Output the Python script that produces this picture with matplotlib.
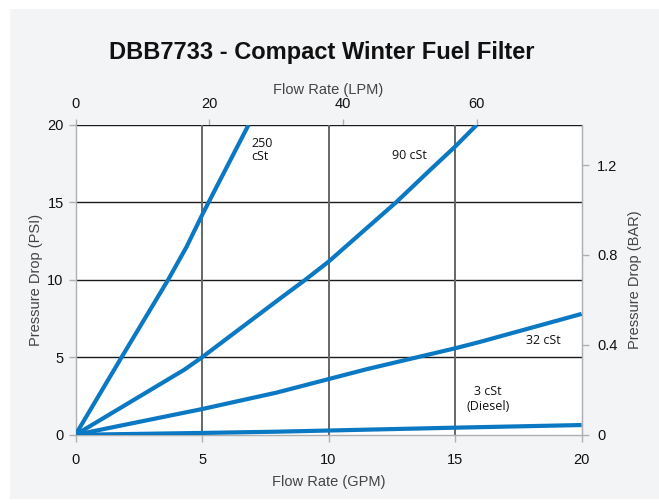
import matplotlib
matplotlib.use("Agg")
import matplotlib.pyplot as plt
from matplotlib.patches import Rectangle

# Data (GPM vs PSI)
gpm_250 = [0, 1.82, 3.66, 4.38, 5.0, 5.26, 6.84]
psi_250 = [0, 5.0, 10.0, 12.1, 14.17, 15.0, 20.0]
gpm_90 = [0, 4.3, 5.0, 6.78, 8.09, 9.08, 10.0, 12.67, 14.01, 15.0, 15.86]
psi_90 = [0, 4.2, 5.0, 7.19, 8.8, 10.0, 11.17, 15.0, 17.08, 18.59, 20.0]
gpm_32 = [0, 5.0, 7.94, 11.5, 15.0, 16.0, 20.0]
psi_32 = [0, 1.66, 2.72, 4.23, 5.58, 6.0, 7.8]
gpm_3 = [0, 5.0, 7.94, 15.0, 20.0]
psi_3 = [0, 0.12, 0.2, 0.46, 0.63]

x_ticks = [0, 5, 10, 15, 20]
y_ticks = [0, 5, 10, 15, 20]
lpm_ticks = [0, 20, 40, 60]
bar_ticks = [0, 0.4, 0.8, 1.2]
bar_labels = ["0", "0.4", "0.8", "1.2"]

GPM2LPM = 3.78541
PSI2BAR = 0.0689476

W, H = 659, 503
fig = plt.figure(figsize=(W / 100, H / 100), dpi=100)
fig.patch.set_facecolor("white")
bg = Rectangle((10 / W, 1 - 499 / H), (W - 10) / W, 490 / H,
               transform=fig.transFigure, facecolor="#f3f4f6",
               edgecolor="none", zorder=-10)
fig.add_artist(bg)

L, R, T, B = 75.5, 581.6, 124.8, 434.8
ax = fig.add_axes([L / W, 1 - B / H, (R - L) / W, (B - T) / H])
ax.set_zorder(1)
ax.set_facecolor("white")
ax.set_xlim(0, 20)
ax.set_ylim(0, 20)

for y in y_ticks[1:]:
    ax.axhline(y, color="#1a1a1a", lw=1.0, zorder=1)
for x in x_ticks[1:-1]:
    ax.axvline(x, color="#666666", lw=1.4, zorder=1)

blue = "#0a78c2"
for gx, py in [(gpm_250, psi_250), (gpm_90, psi_90), (gpm_32, psi_32), (gpm_3, psi_3)]:
    ax.plot(gx, py, color=blue, lw=3.0, solid_capstyle="butt", solid_joinstyle="round",
            zorder=3, clip_on=True)

for s in ["left", "bottom", "right"]:
    ax.spines[s].set_color("#b0b0b0")
    ax.spines[s].set_linewidth(1.0)
ax.spines["top"].set_visible(False)

fam = "Liberation Sans"
tfont = dict(family=fam, size=10.5)
ax.set_xticks(x_ticks)
ax.set_yticks(y_ticks)
ax.set_xticklabels([str(v) for v in x_ticks], fontdict=tfont)
ax.set_yticklabels([str(v) for v in y_ticks], fontdict=tfont)
ax.tick_params(axis="both", colors="#b0b0b0", labelcolor="#111111", length=5, width=1)
ax.tick_params(axis="x", pad=8)
ax.set_xlabel("Flow Rate (GPM)", family=fam, size=10.5, color="#444444", labelpad=6)
ax.set_ylabel("Pressure Drop (PSI)", family=fam, size=10.5, color="#444444", labelpad=3)

top = ax.secondary_xaxis("top", functions=(lambda g: g * GPM2LPM, lambda l: l / GPM2LPM))
top.set_xticks(lpm_ticks)
top.set_xticklabels([str(v) for v in lpm_ticks], fontdict=tfont)
top.tick_params(colors="#b0b0b0", labelcolor="#111111", length=4, width=1, pad=6)
top.spines["top"].set_visible(False)
top.set_xlabel("Flow Rate (LPM)", family=fam, size=10.5, color="#444444", labelpad=2)

right = ax.secondary_yaxis("right", functions=(lambda p: p * PSI2BAR, lambda b: b / PSI2BAR))
right.set_yticks(bar_ticks)
right.set_yticklabels(bar_labels, fontdict=tfont)
right.tick_params(colors="#b0b0b0", labelcolor="#111111", length=5, width=1, pad=6)
right.spines["right"].set_color("#b0b0b0")
right.set_ylabel("Pressure Drop (BAR)", family=fam, size=10.5, color="#444444", labelpad=8)

lfont = dict(family="Open Sans", size=9, color="#111111")
ax.text(6.95, 18.4, "250\ncSt", ha="left", va="center", linespacing=1.0, **lfont)
ax.text(13.2, 18.0, "90 cSt", ha="center", va="center", **lfont)
ax.text(18.5, 6.1, "32 cSt", ha="center", va="center", **lfont)
ax.text(16.3, 2.3, "3 cSt\n(Diesel)", ha="center", va="center", linespacing=1.15, **lfont)

fig.text(322 / W, 1 - 52 / H, "DBB7733 - Compact Winter Fuel Filter", ha="center", va="center",
         family=fam, weight="bold", size=17, color="#111111")

fig.savefig("out.png", dpi=100, facecolor=fig.get_facecolor())
